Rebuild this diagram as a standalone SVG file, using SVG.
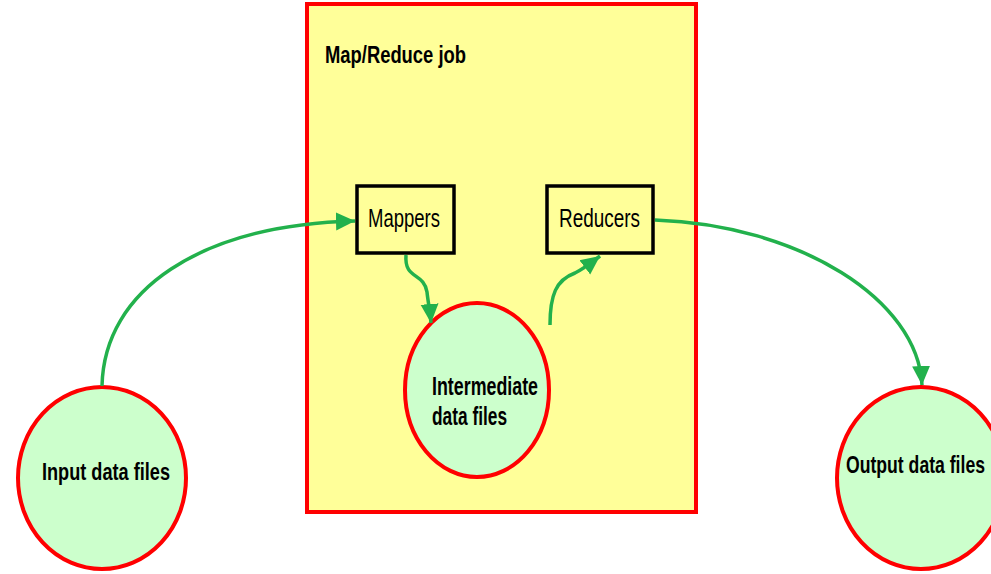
<svg xmlns="http://www.w3.org/2000/svg" width="991" height="574" viewBox="0 0 991 574">
  <style>
    .data { fill: #CCFFCC; stroke: #FF0000; stroke-width: 4; }
    .proc { fill: #FFFF99; stroke: #000000; stroke-width: 3.5; }
    .job { fill: #FFFF99; stroke: #FF0000; stroke-width: 4; }
    .lbl { font-family: "Liberation Sans", Arial, sans-serif; fill: #000000; }
    .b { font-weight: bold; }
    .flow { fill: none; stroke: #22B14C; stroke-width: 3.5; }
  </style>
  <defs>
    <marker id="arrow" markerUnits="userSpaceOnUse" markerWidth="22" markerHeight="20" refX="19" refY="10" orient="auto">
      <path d="M0,1 L19,10 L0,19 Z" fill="#22B14C"/>
    </marker>
  </defs>

  <rect width="991" height="574" fill="#FFFFFF"/>

  <g id="job">
    <rect class="job" x="307" y="4" width="389" height="508"/>
    <text class="lbl b" x="325" y="63" font-size="24" textLength="141" lengthAdjust="spacingAndGlyphs">Map/Reduce job</text>
  </g>

  <g id="mappers">
    <rect class="proc" x="357" y="186" width="97" height="67"/>
    <text class="lbl" x="368" y="227" font-size="26" textLength="72" lengthAdjust="spacingAndGlyphs">Mappers</text>
  </g>

  <g id="reducers">
    <rect class="proc" x="547" y="186" width="106" height="67"/>
    <text class="lbl" x="559" y="227" font-size="26" textLength="81" lengthAdjust="spacingAndGlyphs">Reducers</text>
  </g>

  <g id="intermediate">
    <ellipse class="data" cx="477" cy="390" rx="72" ry="87"/>
    <text class="lbl b" x="432" y="395" font-size="25" textLength="106" lengthAdjust="spacingAndGlyphs">Intermediate</text>
    <text class="lbl b" x="432" y="425" font-size="25" textLength="75" lengthAdjust="spacingAndGlyphs">data files</text>
  </g>

  <g id="input">
    <ellipse class="data" cx="102" cy="478" rx="84" ry="91"/>
    <text class="lbl b" x="42" y="480" font-size="24" textLength="128" lengthAdjust="spacingAndGlyphs">Input data files</text>
  </g>

  <g id="output">
    <ellipse class="data" cx="921" cy="478" rx="84" ry="91"/>
    <text class="lbl b" x="846" y="473" font-size="24" textLength="139" lengthAdjust="spacingAndGlyphs">Output data files</text>
  </g>

  <g id="connectors">
    <path class="flow" marker-end="url(#arrow)" d="M102,386 C104,290 200,225 355,221"/>
    <path class="flow" marker-end="url(#arrow)" d="M406,255 C404,280 424,272 427,292 C428,302 430,310 431,323"/>
    <path class="flow" marker-end="url(#arrow)" d="M550,325 C550,295 556,280 575,273 C585,268 592,262 600,256"/>
    <path class="flow" marker-end="url(#arrow)" d="M655,220 C800,225 918,300 922,385"/>
  </g>
</svg>
